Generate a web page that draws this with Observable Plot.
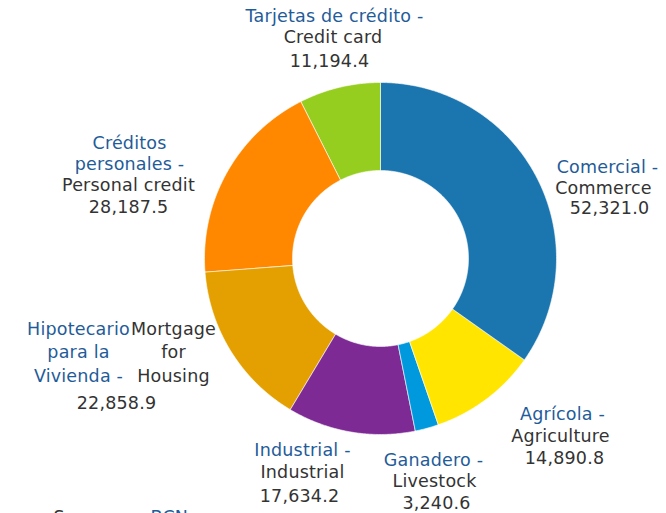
<!DOCTYPE html>
<html><head><meta charset="utf-8">
<script src="https://cdn.jsdelivr.net/npm/d3@7"></script>
<script src="https://cdn.jsdelivr.net/npm/@observablehq/plot@0.6"></script>
<style>html,body{margin:0;padding:0;background:#fff;overflow:hidden} svg{overflow:visible} svg text{letter-spacing:0.2px}</style>
</head><body><div id="chart"></div>
<script>
// ---- data ----
const labelsEs = ["Comercial -", "Agrícola -", "Ganadero -", "Industrial -", "Hipotecario\npara la\nVivienda -", "Créditos\npersonales -", "Tarjetas de crédito -"];
const labelsEn = ["Commerce", "Agriculture", "Livestock", "Industrial", "Mortgage\nfor\nHousing", "Personal credit", "Credit card"];
const values = [52321.0, 14890.8, 3240.6, 17634.2, 22858.9, 28187.5, 11194.4];
const captionParts = ["Fuente -", "Source:", "BCN"];

// ---- styles / layout ----
const palette = ["#1B75AF", "#FFE500", "#0099DD", "#7D2A95", "#E3A000", "#FF8800", "#96CE20"];
const blueText = "#1F5C99", darkText = "#333333";
const W = 666, H = 513, cx = 380, cy = 258, R = 176, R0 = 88;
const FONT = "DejaVu Sans", FS = 17.5;
// label anchors (baseline of first line), per slice
const labelLayout = [
  {es: [607, 172], en: [603, 193.5], val: [609, 213], lh: 21.5},
  {es: [562, 419.5], en: [560, 441.5], val: [564, 463], lh: 21.5},
  {es: [433, 465], en: [434, 486.5], val: [436, 508.5], lh: 21.5},
  {es: [302, 455], en: [302, 477], val: [299, 501.5], lh: 21.5},
  {es: [78, 334.5], en: [173, 334.5], val: [116, 408], lh: 23.3},
  {es: [129, 148.5], en: [128, 190], val: [128, 212.5], lh: 21},
  {es: [334, 21], en: [332.5, 42], val: [329, 66.5], lh: 21.5}
];
const captionX = [19, 53, 150];

// ---- slices ----
const arcs = d3.pie().sort(null).value(d => d)(values);
const slicePts = [];
arcs.forEach((a, i) => {
  const n = Math.max(2, Math.ceil((a.endAngle - a.startAngle) / (Math.PI / 360)));
  for (let k = 0; k <= n; k++) {
    const t = a.startAngle + (a.endAngle - a.startAngle) * k / n;
    slicePts.push({key: i, color: palette[i], x: cx + R * Math.sin(t), y: cy - R * Math.cos(t)});
  }
  for (let k = n; k >= 0; k--) {
    const t = a.startAngle + (a.endAngle - a.startAngle) * k / n;
    slicePts.push({key: i, color: palette[i], x: cx + R0 * Math.sin(t), y: cy - R0 * Math.cos(t)});
  }
});

// ---- text rows ----
const fmt = d3.format(",.1f");
const textRows = [];
values.forEach((v, i) => {
  const L = labelLayout[i];
  labelsEs[i].split("\n").forEach((s, j) => textRows.push({x: L.es[0], y: L.es[1] + j * L.lh, text: s, color: blueText}));
  labelsEn[i].split("\n").forEach((s, j) => textRows.push({x: L.en[0], y: L.en[1] + j * L.lh, text: s, color: darkText}));
  textRows.push({x: L.val[0], y: L.val[1], text: fmt(v), color: darkText});
});
const captionRows = captionParts.map((s, i) => ({
  x: captionX[i], y: 522, text: s, color: i === 1 ? darkText : blueText, anchor: i === 0 ? "end" : "start"
}));

const chart = Plot.plot({
  width: W, height: H, margin: 0,
  style: {background: "#fff", overflow: "visible"},
  x: {domain: [0, W], axis: null},
  y: {domain: [0, H], reverse: true, axis: null},
  color: {type: "identity"},
  marks: [
    Plot.line(slicePts, {x: "x", y: "y", z: "key", fill: "color", stroke: "white", strokeWidth: 0.6, curve: "linear-closed"}),
    Plot.text(textRows, {x: "x", y: "y", text: "text", fill: "color", textAnchor: "middle", lineAnchor: "bottom", fontSize: FS, fontFamily: FONT}),
    Plot.text(captionRows.filter(d => d.anchor === "end"), {x: "x", y: "y", text: "text", fill: "color", textAnchor: "end", lineAnchor: "bottom", fontSize: FS, fontFamily: FONT}),
    Plot.text(captionRows.filter(d => d.anchor === "start"), {x: "x", y: "y", text: "text", fill: "color", textAnchor: "start", lineAnchor: "bottom", fontSize: FS, fontFamily: FONT})
  ]
});
document.getElementById("chart").appendChild(chart);
</script>
</body></html>
